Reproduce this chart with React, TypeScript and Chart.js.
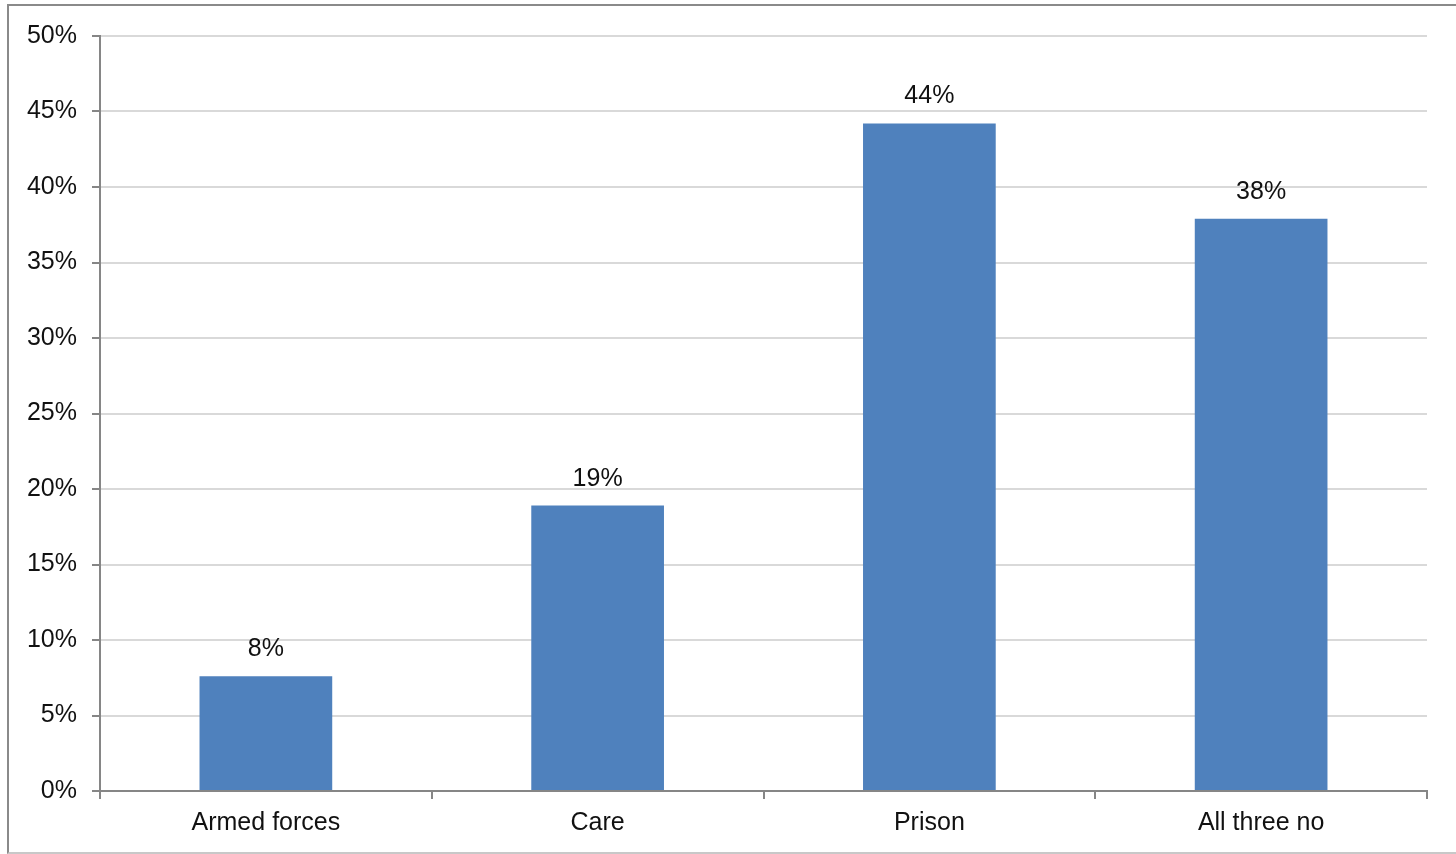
import React, { useEffect, useRef } from "react";
import { Chart, registerables } from "chart.js";

Chart.register(...registerables);

const categories = ["Armed forces", "Care", "Prison", "All three no"];
const values = [7.6, 18.9, 44.2, 37.9];
const yTicks = [0, 5, 10, 15, 20, 25, 30, 35, 40, 45, 50];

const FONT = "'Liberation Sans', Arial, sans-serif";

export default function App() {
  const ref = useRef<HTMLCanvasElement | null>(null);

  useEffect(() => {
    if (!ref.current) return;
    const labelPlugin = {
      id: "barLabels",
      afterDatasetsDraw(chart: any) {
        const ctx = chart.ctx;
        const meta = chart.getDatasetMeta(0);
        ctx.save();
        ctx.font = `25px ${FONT}`;
        ctx.fillStyle = "#111";
        ctx.textAlign = "center";
        ctx.textBaseline = "middle";
        meta.data.forEach((bar: any, i: number) => {
          const v = chart.data.datasets[0].data[i] as number;
          ctx.fillText(Math.round(v) + "%", bar.x, bar.y - 27);
        });
        ctx.restore();
      },
    };

    const chart = new Chart(ref.current, {
      type: "bar",
      data: {
        labels: categories,
        datasets: [
          {
            data: values,
            backgroundColor: "#4F81BD",
            borderWidth: 0,
            barPercentage: 0.4,
            categoryPercentage: 1,
          },
        ],
      },
      options: {
        responsive: false,
        animation: false,
        layout: { padding: { left: 0, right: 29, top: 36, bottom: 0 } },
        plugins: { legend: { display: false }, tooltip: { enabled: false } },
        scales: {
          x: {
            grid: {
              offset: true,
              drawOnChartArea: false,
              drawTicks: true,
              tickLength: 8,
              tickColor: "#868686",
              lineWidth: 2,
            },
            border: { color: "#868686", width: 2 },
            ticks: {
              color: "#111",
              font: { family: FONT, size: 25 },
              padding: 9,
              maxRotation: 0,
            },
            afterFit(scale: any) {
              scale.height = 63;
            },
          },
          y: {
            min: 0,
            max: 50,
            afterBuildTicks(scale: any) {
              scale.ticks = yTicks.map((v) => ({ value: v }));
            },
            grid: {
              color: "#d9d9d9",
              lineWidth: 2,
              drawTicks: true,
              tickLength: 8,
              tickColor: "#868686",
            },
            border: { color: "#868686", width: 2 },
            ticks: {
              color: "#111",
              font: { family: FONT, size: 25 },
              padding: 15,
              callback: (v: any) => v + "%",
            },
            afterFit(scale: any) {
              scale.width = 100;
            },
          },
        },
      },
      plugins: [labelPlugin],
    });
    return () => chart.destroy();
  }, []);

  return (
    <div
      style={{
        position: "absolute",
        left: 0,
        top: 0,
        width: 1456,
        height: 854,
        background: "#fff",
        overflow: "hidden",
      }}
    >
      <canvas
        ref={ref}
        width={1456}
        height={854}
        style={{ position: "absolute", left: 0, top: 0, width: 1456, height: 854 }}
      />
      <div
        style={{
          position: "absolute",
          left: 7,
          top: 4,
          width: 1470,
          height: 846,
          borderTop: "2px solid #8a8a8a",
          borderLeft: "2px solid #8a8a8a",
          borderBottom: "2px solid #c8c8c8",
          pointerEvents: "none",
        }}
      />
    </div>
  );
}
